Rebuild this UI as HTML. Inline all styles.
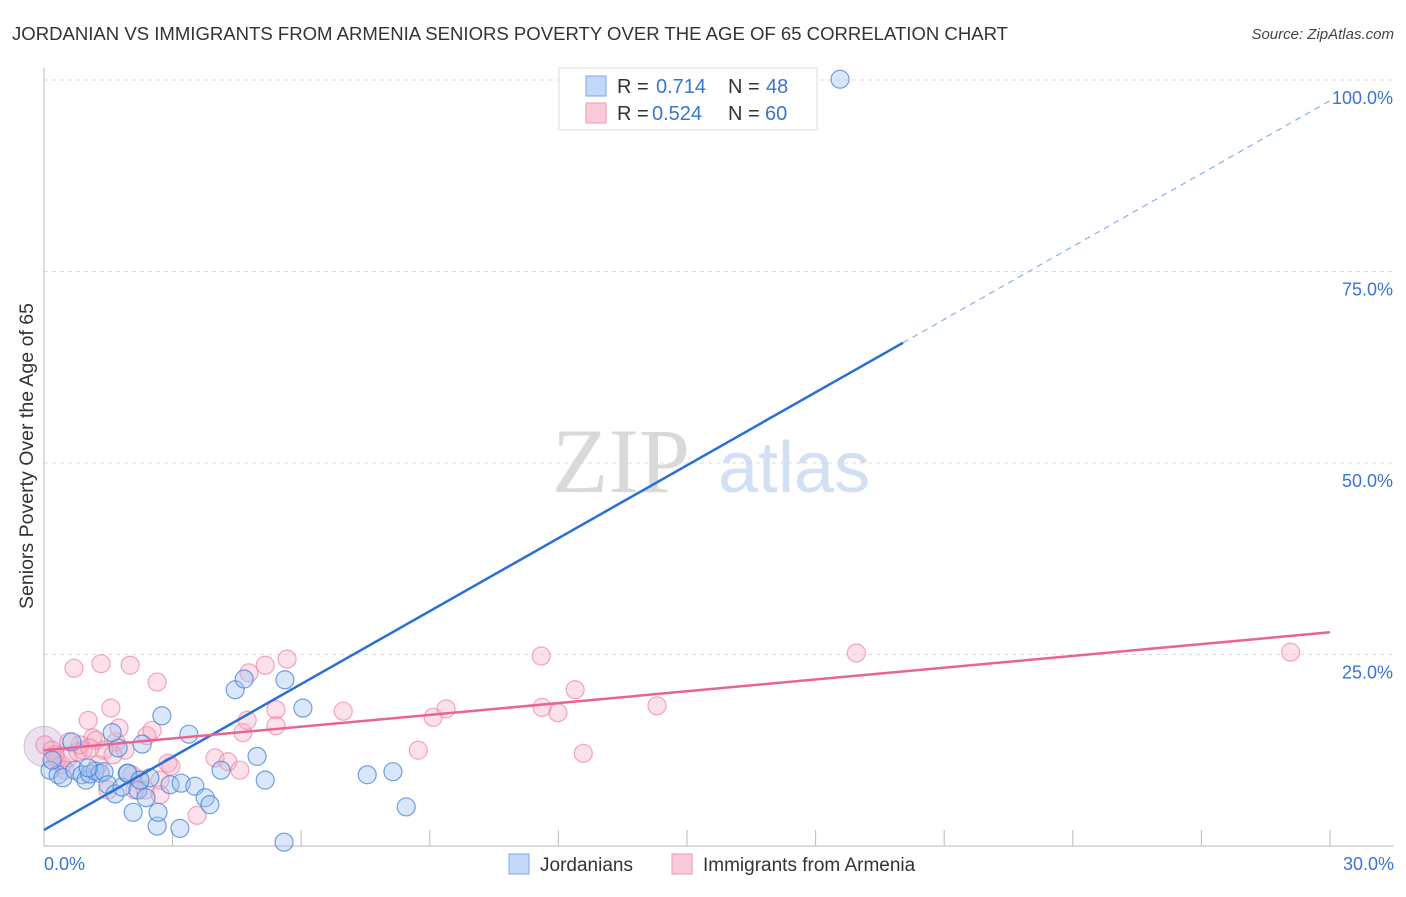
<!DOCTYPE html>
<html><head><meta charset="utf-8"><style>
body{margin:0;background:#fff;font-family:"Liberation Sans",sans-serif;}
</style></head><body>
<svg width="1406" height="892" viewBox="0 0 1406 892" xmlns="http://www.w3.org/2000/svg" font-family="Liberation Sans, sans-serif">
<text x="12" y="40" font-size="18" fill="#333" textLength="996" lengthAdjust="spacingAndGlyphs">JORDANIAN VS IMMIGRANTS FROM ARMENIA SENIORS POVERTY OVER THE AGE OF 65 CORRELATION CHART</text>
<text x="1394" y="39" font-size="15" fill="#444" text-anchor="end" font-style="italic">Source: ZipAtlas.com</text>
<text transform="translate(33,456) rotate(-90)" font-size="19" fill="#333" text-anchor="middle" textLength="306" lengthAdjust="spacingAndGlyphs">Seniors Poverty Over the Age of 65</text>
<g>
<text x="552" y="492" font-size="92" fill="#d9d9d9" font-family="Liberation Serif, serif">ZIP</text>
<text x="718" y="492" font-size="72" fill="#d3e0f3">atlas</text>
</g>
<g id="grid"></g>
<g id="axes"></g>
<g id="marks"></g>
<g>
<rect x="559" y="68" width="258" height="62" fill="#fff" stroke="#ddd"/>
<rect x="586" y="76" width="20" height="20" fill="#c4d9f7" stroke="#7aa6e8"/>
<rect x="586" y="103" width="20" height="20" fill="#f9cbd8" stroke="#ee9ab4"/>
<text x="617" y="93" font-size="20" fill="#333">R =</text>
<text x="656" y="93" font-size="20" fill="#3a74d0">0.714</text>
<text x="728" y="93" font-size="20" fill="#333">N =</text>
<text x="766" y="93" font-size="20" fill="#3a74d0">48</text>
<text x="617" y="120" font-size="20" fill="#333">R =</text>
<text x="652" y="120" font-size="20" fill="#3a74d0">0.524</text>
<text x="728" y="120" font-size="20" fill="#333">N =</text>
<text x="765" y="120" font-size="20" fill="#3a74d0">60</text>
</g>
<g>
<rect x="509" y="854" width="20" height="20" fill="#c4d9f7" stroke="#7aa6e8"/>
<text x="540" y="871" font-size="19" fill="#333">Jordanians</text>
<rect x="672" y="854" width="20" height="20" fill="#f9cbd8" stroke="#ee9ab4"/>
<text x="703" y="871" font-size="19" fill="#333">Immigrants from Armenia</text>
</g>
</svg>
<script>
const blueX=[0.14,0.33,0.44,0.65,0.72,0.89,0.98,1.07,1.19,1.31,1.40,1.49,1.66,1.73,1.59,1.82,1.94,2.08,2.19,2.29,2.38,2.47,2.64,2.66,2.75,2.94,3.17,3.20,3.38,3.52,3.76,3.87,4.13,4.46,4.67,4.97,5.16,5.62,5.60,6.04,7.54,8.14,8.45,18.57,1.96,0.19,1.03,2.24];
const blueY=[9.9,9.3,8.9,13.6,9.9,9.3,8.6,9.4,9.8,9.5,9.7,8.0,6.8,12.8,14.8,7.7,9.5,4.4,7.3,13.3,6.3,8.9,2.6,4.4,17.0,8.0,2.3,8.2,14.6,7.8,6.3,5.4,9.9,20.4,21.8,11.7,8.6,21.7,0.5,18.0,9.3,9.7,5.1,100.1,9.5,11.2,10.2,8.6];
const pinkX=[0.02,0.19,0.30,0.42,0.56,0.70,0.79,0.91,1.03,1.14,1.21,1.33,1.40,1.49,1.56,1.68,1.75,1.89,2.01,2.12,2.24,2.40,2.52,2.64,2.71,2.89,2.96,3.57,3.99,4.29,4.57,4.64,4.78,4.74,5.16,5.41,5.41,5.67,6.98,8.73,9.08,9.38,11.60,11.62,11.99,12.39,12.58,14.30,18.95,29.08,0.26,0.49,0.84,1.26,1.61,2.05,1.07,2.36,2.71,0.58];
const pinkY=[13.2,12.5,11.2,10.6,11.5,23.2,12.3,12.5,16.4,14.1,13.8,23.8,12.5,7.3,18.0,13.6,15.4,12.5,23.6,7.3,8.6,14.4,15.1,21.4,8.6,10.8,10.4,4.0,11.5,11.0,9.9,14.8,22.6,16.4,23.6,17.8,15.7,24.4,17.6,12.5,16.8,17.9,24.8,18.1,17.4,20.4,12.1,18.3,25.2,25.3,11.9,9.9,13.2,10.6,11.9,9.3,12.8,7.3,6.7,13.6];
const yTicks=[25,50,75,100];
const yTickLabels=["25.0%","50.0%","75.0%","100.0%"];
const xTicks=[3,6,9,12,15,18,21,24,27,30];
const blueLine=[[0,2.1],[20.04,65.7],[30,97.3]];
const pinkLine=[[0,12.5],[30,27.9]];
const NS="http://www.w3.org/2000/svg";
const sx=v=>44+v/30*1286, sy=v=>846-v/100*766;
function mk(tag,attrs,parent){const e=document.createElementNS(NS,tag);for(const k in attrs)e.setAttribute(k,attrs[k]);parent.appendChild(e);return e;}
const grid=document.getElementById('grid'),axes=document.getElementById('axes'),marks=document.getElementById('marks');
yTicks.forEach((t,i)=>{
 const l=mk('line',{x1:44,x2:1394,y1:sy(t),y2:sy(t),stroke:'#ddd','stroke-dasharray':'4,4'},grid);
 
 
 const tx=mk('text',{x:1393,y:sy(t)+24,'font-size':18,fill:'#3a74d0','text-anchor':'end'},grid);
 tx.textContent=yTickLabels[i];
 
 
});
const ya=mk('line',{x1:44,x2:44,y1:68,y2:846,stroke:'#bbb'},axes);


const xa=mk('line',{x1:44,x2:1394,y1:846,y2:846,stroke:'#bbb'},axes);


xTicks.forEach(t=>{
 const l=mk('line',{x1:sx(t),x2:sx(t),y1:830,y2:846,stroke:'#bbb'},axes);
 
 
});
const x0=mk('text',{x:44,y:870,'font-size':18,fill:'#3a74d0'},axes);x0.textContent='0.0%';


const x1=mk('text',{x:1394,y:870,'font-size':18,fill:'#3a74d0','text-anchor':'end'},axes);x1.textContent='30.0%';


const big=mk('circle',{cx:sx(0),cy:sy(13),r:20,fill:'rgba(200,170,210,0.35)',stroke:'rgba(190,150,200,0.6)'},marks);


pinkX.forEach((x,i)=>{
 const c=mk('circle',{cx:sx(x),cy:sy(pinkY[i]),r:9,fill:'rgba(246,170,195,0.35)',stroke:'rgba(236,130,165,0.7)','stroke-width':1.2},marks);
 
 
});
blueX.forEach((x,i)=>{
 const c=mk('circle',{cx:sx(x),cy:sy(blueY[i]),r:9,fill:'rgba(160,195,240,0.4)',stroke:'rgba(70,130,215,0.75)','stroke-width':1.2},marks);
 
 
});
const b1=mk('line',{x1:sx(blueLine[0][0]),y1:sy(blueLine[0][1]),x2:sx(blueLine[1][0]),y2:sy(blueLine[1][1]),stroke:'#2a6fd6','stroke-width':2.5},marks);


const b2=mk('line',{x1:sx(blueLine[1][0]),y1:sy(blueLine[1][1]),x2:sx(blueLine[2][0]),y2:sy(blueLine[2][1]),stroke:'#8ab0e6','stroke-width':1.2,'stroke-dasharray':'6,5'},marks);


const p1=mk('line',{x1:sx(pinkLine[0][0]),y1:sy(pinkLine[0][1]),x2:sx(pinkLine[1][0]),y2:sy(pinkLine[1][1]),stroke:'#e86592','stroke-width':2.5},marks);


</script>
</body></html>
